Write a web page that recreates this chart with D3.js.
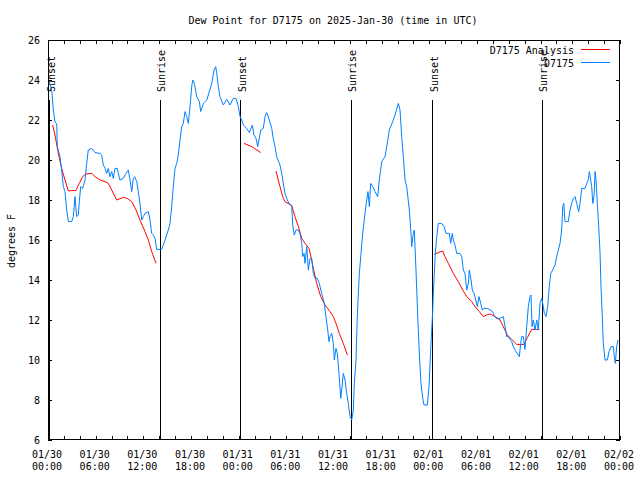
<!DOCTYPE html>
<html>
<head>
<meta charset="utf-8">
<script src="https://cdn.jsdelivr.net/npm/d3@7"></script>
<style>
  html, body { margin: 0; padding: 0; background: #fff; }
  svg { display: block; }
  text { font-family: "DejaVu Sans Mono", "Liberation Mono", monospace; font-size: 10px; fill: #000; }
</style>
</head>
<body>
<svg id="chart" width="640" height="480"></svg>
<script>
// ---------------- DATA ----------------
const title = "Dew Point for D7175 on 2025-Jan-30 (time in UTC)";
const yLabel = "degrees F";

// hours since 2025-01-30 00:00 UTC
const obsHours = [0.16,0.47,0.67,0.88,1.1,1.17,1.51,1.72,1.93,2.14,2.35,2.56,2.98,3.19,3.4,3.61,3.82,3.94,4.12,4.37,4.66,4.87,5.07,5.5,5.92,6.55,6.76,6.96,7.18,7.39,7.59,7.8,8.02,8.22,8.43,8.72,8.85,9.06,9.48,9.82,10.11,10.32,10.54,10.74,10.91,11.17,11.37,11.58,11.8,12.0,12.21,12.63,12.84,13.05,13.26,13.47,13.68,14.31,14.73,15.14,15.36,15.57,15.77,15.99,16.2,16.4,16.62,16.83,17.03,17.25,17.46,17.66,17.88,18.09,18.21,18.42,18.72,19.05,19.22,19.55,19.98,20.18,20.61,20.9,21.11,21.24,21.44,21.65,22.07,22.5,22.91,23.33,23.67,23.96,24.17,24.38,24.58,25.01,25.34,25.72,25.93,26.18,26.4,26.78,27.1,27.32,27.53,27.73,28.16,28.36,28.57,28.78,29.2,29.42,29.62,29.83,30.12,30.37,30.68,30.8,31.0,31.22,31.51,31.72,31.94,32.06,32.23,32.35,32.57,32.77,32.98,33.19,33.4,33.61,33.9,34.15,34.45,34.78,34.99,35.21,35.37,35.5,35.71,35.91,36.04,36.25,36.42,36.63,36.85,37.01,37.17,37.39,37.6,37.8,38.02,38.23,38.43,38.56,38.77,38.93,39.19,39.4,39.61,39.9,40.12,40.28,40.45,40.62,40.87,41.16,41.5,41.7,42.01,42.42,42.64,42.96,43.39,43.68,44.1,44.31,44.52,44.73,44.94,45.15,45.48,45.69,45.78,45.98,46.11,46.32,46.54,46.74,46.95,47.17,47.33,47.75,47.96,48.17,48.3,48.43,48.5,48.63,48.75,48.93,49.13,49.56,49.85,50.1,50.52,50.69,50.89,51.02,51.23,51.45,51.86,52.08,52.28,52.49,52.71,52.91,53.03,53.25,53.41,53.63,53.84,54.04,54.25,54.47,54.67,54.88,55.3,55.64,55.98,56.18,56.48,56.9,57.31,57.53,57.74,57.94,58.37,58.57,58.91,59.2,59.33,59.5,59.63,59.83,60.04,60.26,60.46,60.67,60.8,60.93,61.09,61.3,61.52,61.72,61.93,62.15,62.35,62.47,62.69,62.9,63.1,63.28,63.53,63.82,64.03,64.24,64.45,64.66,64.79,64.92,65.08,65.5,65.71,65.92,66.13,66.34,66.55,66.8,66.97,67.18,67.6,67.81,68.01,68.14,68.31,68.44,68.57,68.73,68.86,68.98,69.15,69.32,69.49,69.61,69.77,69.9,70.12,70.41,70.62,70.87,71.16,71.29,71.41,71.58,71.75];
const obsValues = [23.92,23.5,22.5,21.9,21.8,20.67,20.17,19.5,18.67,18.42,17.5,16.92,16.92,17.17,18.17,17.17,17.25,17.92,18.67,18.58,19.0,19.83,20.5,20.58,20.37,20.33,20.25,19.75,19.58,19.33,19.58,19.17,19.42,19.08,19.58,19.58,19.33,19.0,19.08,19.33,19.5,19.0,18.42,19.08,19.17,18.92,18.42,17.83,17.0,17.17,17.33,17.42,17.0,16.33,16.25,16.08,15.53,15.53,16.0,16.5,16.83,17.67,18.67,19.58,19.83,20.25,21.0,21.67,21.83,22.42,22.17,21.83,22.67,23.67,24.0,23.83,23.17,22.92,22.42,22.83,23.0,23.25,23.83,24.5,24.67,24.33,23.67,23.17,22.75,23.03,22.75,23.08,23.08,22.67,22.17,22.0,21.75,21.58,21.37,21.75,21.25,21.08,20.67,21.5,21.58,22.17,22.37,22.17,21.58,21.08,20.67,20.17,19.75,19.33,18.83,18.33,18.0,17.83,17.67,16.75,16.25,16.5,16.5,16.33,15.83,15.17,15.33,14.83,15.67,14.5,15.08,15.08,14.33,14.08,14.08,13.83,13.33,12.83,12.17,11.5,10.92,11.17,11.33,10.83,10.0,10.58,10.33,9.33,8.08,8.67,9.33,9.0,8.33,7.83,7.17,7.0,7.5,8.83,10.0,12.17,14.33,15.33,16.33,17.33,18.0,18.42,17.67,18.83,18.67,18.42,18.17,19.0,19.92,20.17,20.67,21.5,21.92,22.25,22.83,22.5,21.17,20.17,19.0,18.67,17.5,16.33,15.67,16.33,16.5,14.5,12.17,10.33,8.83,8.08,7.75,7.75,8.67,10.5,11.5,12.5,13.33,14.33,15.33,16.17,16.83,16.83,16.67,16.33,16.33,15.83,16.33,16.0,15.75,15.33,15.33,15.17,14.5,14.33,13.5,13.83,14.5,14.0,13.5,13.33,13.0,12.67,13.17,12.83,12.5,12.58,12.58,12.5,12.42,12.17,12.08,12.08,12.17,11.67,11.17,11.17,10.92,10.67,10.42,10.25,10.17,10.83,11.17,11.17,10.53,11.67,12.67,13.17,13.25,11.67,12.0,11.5,12.0,11.5,12.83,13.08,12.67,12.33,12.17,12.67,13.67,14.33,14.5,14.75,15.17,15.5,15.83,16.5,17.67,17.83,16.92,16.92,17.5,17.83,18.08,18.17,17.83,17.42,17.83,18.58,18.58,18.83,19.0,19.42,19.0,18.67,17.83,18.17,19.42,19.0,17.83,16.67,15.33,13.67,12.17,10.83,10.0,10.0,10.42,10.67,10.67,10.17,9.83,10.67,11.0];

// analysis series (null = gap)
const anaHours = [0.59,0.88,1.3,1.72,2.14,2.56,2.98,3.52,3.94,4.37,4.75,5.5,5.92,6.55,7.18,7.59,8.02,8.65,9.48,9.98,10.54,11.08,11.58,12.21,12.63,13.05,13.6,
  13.61,24.67,25.64,26.78,
  26.79,28.7,29.2,29.54,29.83,30.68,31.09,31.51,31.94,32.35,32.86,33.19,33.4,33.82,34.33,34.87,35.5,35.91,36.25,36.67,37.17,37.68,
  37.69,48.63,49.13,49.68,49.97,50.39,51.02,51.65,52.2,52.71,53.34,53.75,54.29,54.8,55.22,55.64,56.27,56.9,57.31,57.82,58.37,59.0,59.92,60.34,60.89,61.84];
const anaValues = [21.75,21.25,20.33,19.58,19.0,18.45,18.47,18.47,18.83,19.17,19.3,19.33,19.17,19.0,18.92,18.83,18.5,18.0,18.13,18.08,17.92,17.5,17.0,16.42,16.0,15.42,14.83,
  null,20.83,20.67,20.37,
  null,19.45,18.67,18.17,17.92,17.72,17.17,16.67,16.08,15.83,15.58,15.0,14.58,13.83,13.17,12.75,12.42,12.17,11.83,11.33,10.83,10.25,
  null,15.28,15.37,15.45,15.17,14.83,14.33,13.92,13.5,13.17,12.92,12.67,12.42,12.17,12.25,12.3,12.17,12.0,11.67,11.25,11.03,10.78,10.78,11.12,11.53,11.53];

const sunHours = [0.15, 14.05, 24.12, 38.13, 48.3, 62.18];
const sunLabels = ["Sunset", "Sunrise", "Sunset", "Sunrise", "Sunset", "Sunrise"];

const yTicks = [6, 8, 10, 12, 14, 16, 18, 20, 22, 24, 26];
const xTickHours = d3.range(0, 73, 2);
const xLabelHours = [0, 6, 12, 18, 24, 30, 36, 42, 48, 54, 60, 66, 72];
const xTickLabels = ["01/30|00:00","01/30|06:00","01/30|12:00","01/30|18:00","01/31|00:00","01/31|06:00","01/31|12:00","01/31|18:00","02/01|00:00","02/01|06:00","02/01|12:00","02/01|18:00","02/02|00:00"];

const seriesNames = ["D7175 Analysis", "D7175"];
const seriesColors = ["#ff0000", "#0080ff"];

// ---------------- CHART ----------------
const svg = d3.select("#chart");
const L = 48, R = 620, T = 40, B = 440;
const x = d3.scaleLinear().domain([0, 72]).range([L, R]);
const y = d3.scaleLinear().domain([6, 26]).range([B, T]);

svg.append("rect").attr("width", 640).attr("height", 480).attr("fill", "#fff");

// title
svg.append("text").attr("x", 333).attr("y", 24).attr("text-anchor", "middle").text(title);

// y label
svg.append("text").attr("transform", "translate(15,241) rotate(-90)")
  .attr("text-anchor", "middle").text(yLabel);

// axes
const axL = svg.append("g").attr("transform", `translate(${L},0)`)
  .call(d3.axisLeft(y).tickValues(yTicks).tickSize(-4).tickPadding(8).tickFormat(d3.format("d")));
const axR = svg.append("g").attr("transform", `translate(${R},0)`)
  .call(d3.axisRight(y).tickValues(yTicks).tickSize(-4).tickFormat(""));
const axB = svg.append("g").attr("transform", `translate(0,${B})`)
  .call(d3.axisBottom(x).tickValues(xTickHours).tickSize(-4).tickFormat(d => {
    const i = xLabelHours.indexOf(d);
    return i >= 0 ? xTickLabels[i] : "";
  }));
const axT = svg.append("g").attr("transform", `translate(0,${T})`)
  .call(d3.axisTop(x).tickValues(xTickHours).tickSize(-4).tickFormat(""));

[axL, axR, axB, axT].forEach(g => {
  g.select(".domain").remove();
  g.selectAll("line").attr("stroke", "#000").attr("shape-rendering", "crispEdges");
  g.selectAll("text").attr("font-family", null).attr("font-size", null);
  g.attr("font-family", null).attr("font-size", null);
});

axB.selectAll(".tick text").each(function() {
  const t = d3.select(this);
  const s = t.text();
  t.text(null).attr("dy", null).attr("y", null).attr("x", -1.5);
  if (!s) return;
  const parts = s.split("|");
  t.append("tspan").attr("x", -1.5).attr("y", 18).text(parts[0]);
  t.append("tspan").attr("x", -1.5).attr("y", 30).text(parts[1]);
});

// sunrise / sunset markers
sunHours.forEach((h, i) => {
  svg.append("line").attr("x1", Math.round(x(h)) + 0.5).attr("x2", Math.round(x(h)) + 0.5)
    .attr("y1", 100).attr("y2", B).attr("stroke", "#000").attr("stroke-width", 1);
  const off = sunLabels[i] === "Sunrise" ? 5 : 6;
  svg.append("text").attr("transform", `translate(${x(h) + off},92) rotate(-90)`)
    .attr("text-anchor", "start").text(sunLabels[i]);
});

// clip
svg.append("clipPath").attr("id", "clip").append("rect")
  .attr("x", L).attr("y", T).attr("width", R - L).attr("height", B - T);

const anaData = anaHours.map((h, i) => ({ h, v: anaValues[i] }));
const obsData = obsHours.map((h, i) => ({ h, v: obsValues[i] }));

const line = d3.line().defined(d => d.v !== null).x(d => x(d.h)).y(d => y(d.v));

svg.append("path").datum(anaData).attr("clip-path", "url(#clip)")
  .attr("fill", "none").attr("stroke", seriesColors[0]).attr("stroke-width", 1).attr("d", line);
svg.append("path").datum(obsData).attr("clip-path", "url(#clip)")
  .attr("fill", "none").attr("stroke", seriesColors[1]).attr("stroke-width", 1).attr("d", line);

// border
svg.append("rect").attr("x", L + 0.5).attr("y", T + 0.5).attr("width", R - L - 1).attr("height", B - T - 1)
  .attr("fill", "none").attr("stroke", "#000").attr("stroke-width", 1).attr("shape-rendering", "crispEdges");

// legend
seriesNames.forEach((name, i) => {
  const ly = 49.5 + i * 13;
  svg.append("text").attr("x", 574).attr("y", ly + 4.5).attr("text-anchor", "end").text(name);
  svg.append("line").attr("x1", 581).attr("x2", 610).attr("y1", ly).attr("y2", ly)
    .attr("stroke", seriesColors[i]).attr("stroke-width", 1);
});
</script>
</body>
</html>
